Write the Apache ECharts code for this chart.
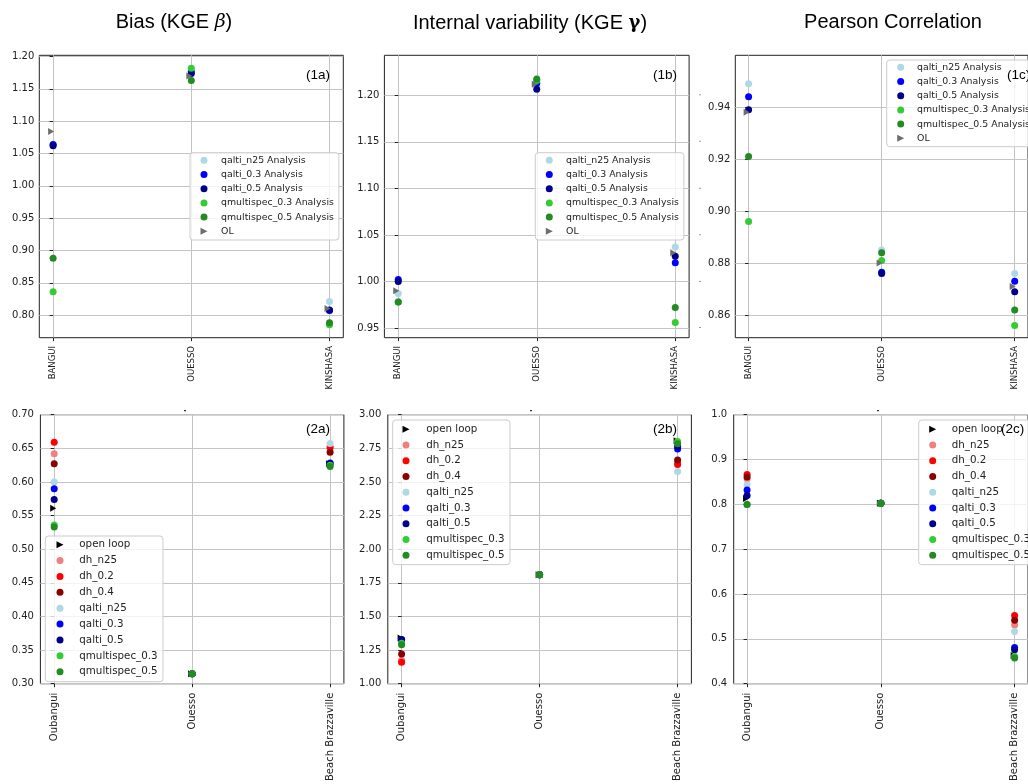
<!DOCTYPE html>
<html><head><meta charset="utf-8">
<script src="https://cdn.jsdelivr.net/npm/echarts@6/dist/echarts.min.js"></script>
<style>html,body{margin:0;padding:0;background:#fff}#c{width:1028px;height:784px}</style>
</head><body><div id="c"></div>
<script>
// ---------- categories ----------
const topStations = ['BANGUI', 'OUESSO', 'KINSHASA'];
const bottomStations = ['Oubangui', 'Ouesso', 'Beach Brazzaville'];
const topNames = ['qalti_n25 Analysis', 'qalti_0.3 Analysis', 'qalti_0.5 Analysis', 'qmultispec_0.3 Analysis', 'qmultispec_0.5 Analysis', 'OL'];
const bottomNames = ['open loop', 'dh_n25', 'dh_0.2', 'dh_0.4', 'qalti_n25', 'qalti_0.3', 'qalti_0.5', 'qmultispec_0.3', 'qmultispec_0.5'];

// ---------- tick labels ----------
const biasTicks = [0.80, 0.85, 0.90, 0.95, 1.00, 1.05, 1.10, 1.15, 1.20];
const gammaTicks = [0.95, 1.00, 1.05, 1.10, 1.15, 1.20];
const corrTicks = [0.86, 0.88, 0.90, 0.92, 0.94];
const bias2Ticks = [0.30, 0.35, 0.40, 0.45, 0.50, 0.55, 0.60, 0.65, 0.70];
const gamma2Ticks = [1.00, 1.25, 1.50, 1.75, 2.00, 2.25, 2.50, 2.75, 3.00];
const corr2Ticks = [0.4, 0.5, 0.6, 0.7, 0.8, 0.9, 1.0];

// ---------- (1a) Bias, top row ----------
const bias_qalti_n25 = [1.064, 1.177, 0.821];
const bias_qalti_03 = [1.064, 1.176, 0.807];
const bias_qalti_05 = [1.062, 1.174, 0.808];
const bias_qms_03 = [0.836, 1.182, 0.785];
const bias_qms_05 = [0.888, 1.163, 0.788];
const bias_OL = [1.084, 1.170, 0.810];
// ---------- (1b) Gamma, top row ----------
const gamma_qalti_n25 = [0.987, 1.210, 1.037];
const gamma_qalti_03 = [1.002, 1.213, 1.020];
const gamma_qalti_05 = [1.000, 1.2065, 1.027];
const gamma_qms_03 = [0.978, 1.216, 0.956];
const gamma_qms_05 = [0.978, 1.2175, 0.972];
const gamma_OL = [0.990, 1.212, 1.031];
// ---------- (1c) Pearson, top row ----------
const corr_qalti_n25 = [0.949, 0.885, 0.876];
const corr_qalti_03 = [0.944, 0.8765, 0.873];
const corr_qalti_05 = [0.939, 0.876, 0.869];
const corr_qms_03 = [0.896, 0.881, 0.856];
const corr_qms_05 = [0.921, 0.884, 0.862];
const corr_OL = [0.938, 0.880, 0.871];

// ---------- (2a) ----------
const b2_open = [0.561, 0.315, 0.627];
const b2_dh_n25 = [0.642, 0.315, 0.650];
const b2_dh_02 = [0.659, 0.315, 0.652];
const b2_dh_04 = [0.627, 0.315, 0.644];
const b2_qalti_n25 = [0.600, 0.315, 0.657];
const b2_qalti_03 = [0.590, 0.315, 0.628];
const b2_qalti_05 = [0.574, 0.315, 0.627];
const b2_qms_03 = [0.536, 0.315, 0.625];
const b2_qms_05 = [0.533, 0.315, 0.623];
// ---------- (2b) ----------
const g2_open = [1.339, 1.811, 2.806];
const g2_dh_n25 = [1.175, 1.811, 2.645];
const g2_dh_02 = [1.160, 1.811, 2.629];
const g2_dh_04 = [1.221, 1.811, 2.663];
const g2_qalti_n25 = [1.320, 1.811, 2.577];
const g2_qalti_03 = [1.329, 1.811, 2.745];
const g2_qalti_05 = [1.327, 1.811, 2.764];
const g2_qms_03 = [1.300, 1.811, 2.800];
const g2_qms_05 = [1.290, 1.811, 2.784];
// ---------- (2c) ----------
const c2_open = [0.813, 0.8025, 0.463];
const c2_dh_n25 = [0.857, 0.8025, 0.531];
const c2_dh_02 = [0.8665, 0.8025, 0.552];
const c2_dh_04 = [0.861, 0.8025, 0.5415];
const c2_qalti_n25 = [0.8435, 0.8025, 0.5165];
const c2_qalti_03 = [0.832, 0.8025, 0.481];
const c2_qalti_05 = [0.820, 0.8025, 0.476];
const c2_qms_03 = [0.7995, 0.8025, 0.4605];
const c2_qms_05 = [0.7995, 0.8025, 0.4575];

// ---------- styling ----------
const topColors = ['#add8e6', '#0000ff', '#00008b', '#32cd32', '#228b22', '#6e6e6e'];
const bottomColors = ['#000000', '#f08080', '#ff0000', '#8b0000', '#add8e6', '#0000ff', '#00008b', '#32cd32', '#228b22'];
const TRI = 'path://M0,0L10,5L0,10Z';
const FONT = 'DejaVu Sans';

const grids = [
  { left: 39.3, top: 55.3, width: 304, height: 282.4 },
  { left: 384.4, top: 55.3, width: 304.7, height: 282.4 },
  { left: 735.3, top: 55.3, width: 303.7, height: 282.4 },
  { left: 40.4, top: 414.7, width: 303.5, height: 271.3 },
  { left: 387.8, top: 414.7, width: 303.6, height: 271.3 },
  { left: 733.7, top: 414.7, width: 306, height: 271.3 }
];
const yRanges = [[0.765, 1.202], [0.9396, 1.243], [0.8513, 0.9599], [0.30, 0.70], [1.0, 3.0], [0.4, 1.0]];
const yTicks = [biasTicks, gammaTicks, corrTicks, bias2Ticks, gamma2Ticks, corr2Ticks];
const yDec = [2, 2, 2, 2, 2, 1];
const yMargin = [5, 5, 5, 6.5, 6.5, 6.5];

const topPanels = [
  [bias_qalti_n25, bias_qalti_03, bias_qalti_05, bias_qms_03, bias_qms_05, bias_OL],
  [gamma_qalti_n25, gamma_qalti_03, gamma_qalti_05, gamma_qms_03, gamma_qms_05, gamma_OL],
  [corr_qalti_n25, corr_qalti_03, corr_qalti_05, corr_qms_03, corr_qms_05, corr_OL]
];
const bottomPanels = [
  [b2_open, b2_dh_n25, b2_dh_02, b2_dh_04, b2_qalti_n25, b2_qalti_03, b2_qalti_05, b2_qms_03, b2_qms_05],
  [g2_open, g2_dh_n25, g2_dh_02, g2_dh_04, g2_qalti_n25, g2_qalti_03, g2_qalti_05, g2_qms_03, g2_qms_05],
  [c2_open, c2_dh_n25, c2_dh_02, c2_dh_04, c2_qalti_n25, c2_qalti_03, c2_qalti_05, c2_qms_03, c2_qms_05]
];

const xAxis = [], yAxis = [], series = [];
grids.forEach((g, i) => {
  const isTop = i < 3;
  const cats = isTop ? topStations : bottomStations;
  xAxis.push({
    type: 'value', gridIndex: i, min: -0.1, max: 2.1,
    axisLine: { show: false },
    axisTick: { show: true, length: 3.5, lineStyle: { color: '#222', width: 1 }, customValues: [0, 1, 2] },
    splitLine: { show: true, lineStyle: { color: '#c4c4c4', width: 1 } },
    axisLabel: {
      customValues: [0, 1, 2], rotate: 90, margin: isTop ? 8.3 : 9,
      fontFamily: FONT, fontSize: isTop ? 8.5 : 10, color: '#222',
      formatter: v => cats[Math.round(v)]
    }
  });
  yAxis.push({
    type: 'value', gridIndex: i, min: yRanges[i][0], max: yRanges[i][1],
    axisLine: { show: false },
    axisTick: { show: true, length: 3.5, lineStyle: { color: '#222', width: 1 }, customValues: yTicks[i] },
    splitLine: { show: true, lineStyle: { color: '#c4c4c4', width: 1 } },
    axisLabel: {
      customValues: yTicks[i], margin: yMargin[i],
      fontFamily: FONT, fontSize: 10, color: '#222',
      formatter: v => Number(v).toFixed(yDec[i])
    }
  });
});

function mk(name, vals, gi, color, tri, off) {
  return {
    type: 'scatter', name: name, xAxisIndex: gi, yAxisIndex: gi,
    data: vals.map((v, k) => [k, v]),
    symbol: tri ? TRI : 'circle',
    symbolSize: tri ? [6, 7] : 7,
    symbolOffset: tri ? [off, 0] : [0, 0],
    itemStyle: { color: color, opacity: 1 },
    emphasis: { disabled: true }, silent: true, animation: false
  };
}
topPanels.forEach((panel, p) => {
  panel.forEach((vals, s) => series.push(mk(topNames[s], vals, p, topColors[s], s === 5, -2)));
});
bottomPanels.forEach((panel, p) => {
  panel.forEach((vals, s) => series.push(mk(bottomNames[s], vals, p + 3, bottomColors[s], s === 0, -1)));
});

function legendCfg(names, left, top, pad, rowH, fs, textPad) {
  return {
    show: true, orient: 'vertical', left: left, top: top,
    data: names.map(n => ({ name: n, icon: (n === 'OL' || n === 'open loop') ? TRI : 'circle' })),
    itemWidth: 7, itemHeight: rowH, itemGap: 0, padding: pad,
    backgroundColor: 'rgba(255,255,255,0.8)', borderColor: '#cccccc', borderWidth: 1, borderRadius: 3,
    symbolKeepAspect: true, selectedMode: false,
    textStyle: { fontFamily: FONT, fontSize: fs, lineHeight: rowH, color: '#222', padding: [0, 0, 0, textPad] },
    z: 10
  };
}
const legend = [
  legendCfg(topNames, 190, 152.7, [0.5, 5, 1.6, 10.5], 14.2, 9.4, 8.5),
  legendCfg(topNames, 535.3, 152.7, [0.5, 5, 1.6, 10.5], 14.2, 9.4, 8.2),
  legendCfg(topNames, 886.7, 60, [0.2, 5, 1.3, 10.5], 14.2, 9.4, 7.8),
  legendCfg(bottomNames, 45.3, 536, [0.8, 5.4, 2, 11.2], 15.875, 10.3, 10.8),
  legendCfg(bottomNames, 392.7, 420, [1.4, 5.4, 1.5, 9.8], 15.75, 10.3, 11.8),
  legendCfg(bottomNames, 918.7, 420, [1.4, 5.4, 1.5, 10.5], 15.75, 10.3, 10.5)
];

const TT = 'Liberation Sans';
function txt(x, y, text, size, align, rich) {
  return {
    type: 'text', x: x, y: y, z: 100, silent: true,
    style: { text: text, fontFamily: TT, fontSize: size, fill: '#000', align: align || 'left', verticalAlign: 'middle', rich: rich }
  };
}
function dot(x, y, w, h) {
  return { type: 'rect', x: x, y: y, silent: true, z: 1, shape: { x: 0, y: 0, width: w, height: h }, style: { fill: '#333' } };
}
const titleRich = {
  t: { fontFamily: TT, fontSize: 20, fill: '#000' },
  b: { fontFamily: 'DejaVu Serif', fontStyle: 'italic', fontSize: 19, fill: '#000' },
  g: { fontFamily: 'DejaVu Serif', fontWeight: 'bold', fontSize: 18, fill: '#000' }
};
const stray = [];
[94.3, 140.7, 187.7, 234.3, 281, 327].forEach(y => stray.push(dot(699.5, y, 1, 1)));
[184, 530, 877].forEach(x => stray.push(dot(x, 410, 2, 1.2)));
const graphic = [
  txt(174, 22, '{t|Bias (KGE }{b|β}{t|)}', 20, 'center', titleRich),
  txt(530, 23, '{t|Internal variability (KGE }{g|γ}{t|)}', 20, 'center', titleRich),
  txt(893, 22, 'Pearson Correlation', 20, 'center'),
  txt(306, 75, '(1a)', 13.5), txt(653, 75, '(1b)', 13.5), txt(1007, 75, '(1c)', 13.5),
  txt(306, 429.5, '(2a)', 13.5), txt(653, 429.5, '(2b)', 13.5), txt(1001, 429.5, '(2c)', 13.5)
].concat(stray);

const chart = echarts.init(document.getElementById('c'), null, { renderer: 'canvas' });
chart.setOption({
  animation: false,
  backgroundColor: '#fff',
  grid: grids.map(g => Object.assign({ show: true, borderColor: '#222', borderWidth: 1, backgroundColor: 'transparent', containLabel: false }, g)),
  xAxis: xAxis, yAxis: yAxis, series: series, legend: legend, graphic: graphic
});
</script></body></html>
